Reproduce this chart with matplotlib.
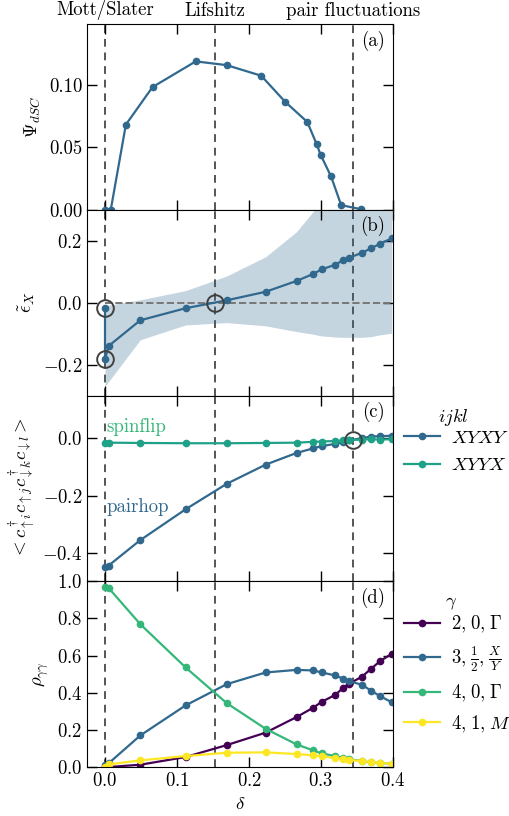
import numpy as np
import matplotlib.pyplot as plt

plt.rcParams['font.family'] = 'serif'
plt.rcParams['font.serif'] = ['cmr10']
plt.rcParams['mathtext.fontset'] = 'cm'
plt.rcParams['axes.formatter.use_mathtext'] = True
plt.rcParams['font.size'] = 13.5

# colours (viridis samples)
c_purple = '#440154'
c_blue = '#31688e'
c_teal = '#1fa187'
c_green = '#35b779'
c_yellow = '#fde725'

# transition points and their names
trans_x = [0.0, 0.153, 0.344]
trans_names = ['Mott/Slater', 'Lifshitz', 'pair fluctuations']

# (a) order parameter
delta_a = [0.0, 0.008, 0.029, 0.066, 0.126, 0.169, 0.217, 0.250, 0.281,
           0.294, 0.2995, 0.314, 0.328, 0.355]
psi_dsc = [0.0, 0.0, 0.0683, 0.0984, 0.119, 0.116, 0.1075, 0.0867, 0.0704,
           0.0525, 0.044, 0.0267, 0.0037, 0.0005]

# shared doping grid for (b)-(d)
delta = [0.0, 0.005, 0.049, 0.112, 0.169, 0.223, 0.266, 0.289, 0.301,
         0.320, 0.331, 0.339, 0.357, 0.369, 0.382, 0.398]

# (b) effective X level, first doping has two solutions
delta_b = [0.0] + delta
eps_x = [-0.018, -0.183, -0.140, -0.057, -0.018, 0.0075, 0.035, 0.070, 0.0925,
         0.1075, 0.1226, 0.1376, 0.145, 0.161, 0.175, 0.190, 0.2075]
eps_hi = [-0.013, -0.008, 0.009, 0.039, 0.086, 0.148, 0.229, 0.294, 0.32,
          0.35, 0.37, 0.38, 0.40, 0.42, 0.43, 0.44]
eps_lo = [-0.271, -0.255, -0.120, -0.072, -0.0645, -0.075, -0.0935, -0.102,
          -0.1075, -0.111, -0.112, -0.112, -0.112, -0.110, -0.104, -0.099]

# (c) correlators
pairhop = [-0.450, -0.445, -0.356, -0.248, -0.159, -0.092, -0.051, -0.035,
           -0.027, -0.019, -0.013, -0.007, 0.001, 0.006, 0.008, 0.009]
spinflip = [-0.015, -0.015, -0.016, -0.017, -0.017, -0.016, -0.015, -0.012,
            -0.011, -0.009, -0.007, -0.006, -0.004, -0.003, -0.004, -0.003]

# (d) density-matrix weights
rho_20G = [0.0, 0.0, 0.0125, 0.054, 0.118, 0.185, 0.269, 0.319, 0.351, 0.389,
           0.427, 0.448, 0.487, 0.527, 0.570, 0.609]
rho_3hXY = [0.009, 0.020, 0.170, 0.332, 0.446, 0.509, 0.523, 0.520, 0.509,
            0.493, 0.475, 0.462, 0.443, 0.412, 0.382, 0.349]
rho_40G = [0.971, 0.964, 0.769, 0.536, 0.344, 0.206, 0.122, 0.090, 0.073,
           0.059, 0.048, 0.043, 0.032, 0.025, 0.0215, 0.018]
rho_41M = [0.002, 0.014, 0.036, 0.059, 0.077, 0.079, 0.070, 0.063, 0.057,
           0.048, 0.043, 0.039, 0.032, 0.027, 0.0215, 0.018]

fig, axes = plt.subplots(4, 1, figsize=(5.1, 8.16), dpi=100, sharex=True)
fig.subplots_adjust(left=0.1706, right=0.7706, top=0.9706, bottom=0.06, hspace=0)

lkw = dict(lw=1.6, marker='o', ms=4.5)
circ = dict(marker='o', ms=12, mfc='none', mec='#404040', mew=1.4, ls='none', zorder=5)
legkw = dict(loc='upper left', frameon=False, handlelength=1.9,
             handletextpad=0.6, borderaxespad=0.2)

for ax in axes:
    for x in trans_x:
        ax.axvline(x, color='#555555', ls='--', lw=1.4, dashes=(4, 3), zorder=1)
    ax.tick_params(direction='in', top=True, right=True, length=7, width=1)
    ax.set_xlim(-0.025, 0.4)
    ax.set_xticks([0.0, 0.1, 0.2, 0.3, 0.4])

for x, name in zip(trans_x, trans_names):
    axes[0].text(x, 1.02, name, transform=axes[0].get_xaxis_transform(),
                 ha='center', va='bottom')

# (a)
ax = axes[0]
ax.plot(delta_a, psi_dsc, color=c_blue, **lkw)
ax.set_ylim(0, 0.149)
ax.set_yticks([0.0, 0.05, 0.10])
ax.yaxis.set_major_formatter(plt.FormatStrFormatter('%.2f'))
ax.set_ylabel(r'$\Psi_{dSC}$')

# (b)
ax = axes[1]
ax.fill_between(delta, eps_lo, eps_hi, color=c_blue, alpha=0.28, lw=0)
ax.hlines(0, 0, 0.4, color='#777777', ls='--', lw=1.4)
ax.plot(delta_b, eps_x, color=c_blue, **lkw)
ax.plot([0.0, 0.0, 0.153], [-0.018, -0.183, 0.0], **circ)
ax.set_ylim(-0.3, 0.3)
ax.set_yticks([-0.2, 0.0, 0.2])
ax.set_ylabel(r'$\tilde{\epsilon}_X$')

# (c)
ax = axes[2]
ax.plot(delta, pairhop, color=c_blue, label=r'$XYXY$', **lkw)
ax.plot(delta, spinflip, color=c_teal, label=r'$XYYX$', **lkw)
ax.plot([0.344], [-0.005], **circ)
ax.text(0.002, 0.01, 'spinflip', color=c_green, ha='left', va='bottom')
ax.text(0.002, -0.21, 'pairhop', color=c_blue, ha='left', va='top')
ax.set_ylim(-0.5, 0.15)
ax.set_yticks([-0.4, -0.2, 0.0])
ax.set_ylabel(r'$<c^\dagger_{\uparrow i}c_{\uparrow j}c^\dagger_{\downarrow k}c_{\downarrow l}>$')
ax.legend(bbox_to_anchor=(1.0, 0.88), **legkw)
ax.text(1.196, 0.88, r'$ijkl$', transform=ax.transAxes, ha='center', va='center')

# (d)
sp = r'\hspace{0.07}'
ax = axes[3]
ax.plot(delta, rho_20G, color=c_purple, label=r'$2,' + sp + r'0,' + sp + r'\Gamma$', **lkw)
ax.plot(delta, rho_3hXY, color=c_blue,
        label=r'$3,' + sp + r'\frac{1}{2},' + sp + r'\frac{X}{Y}$', **lkw)
ax.plot(delta, rho_40G, color=c_green, label=r'$4,' + sp + r'0,' + sp + r'\Gamma$', **lkw)
ax.plot(delta, rho_41M, color=c_yellow, label=r'$4,' + sp + r'1,' + sp + r'M$', **lkw)
ax.set_ylim(0, 1.0)
ax.set_yticks([0.0, 0.2, 0.4, 0.6, 0.8, 1.0])
ax.set_ylabel(r'$\rho_{\gamma\gamma}$')
ax.set_xlabel(r'$\delta$')
ax.legend(bbox_to_anchor=(1.0, 0.885), **legkw)
ax.text(1.19, 0.885, r'$\gamma$', transform=ax.transAxes, ha='center', va='center')

for ax, lab in zip(axes, ['(a)', '(b)', '(c)', '(d)']):
    ax.text(0.975, 0.965, lab, transform=ax.transAxes, ha='right', va='top')

fig.savefig('out.png', dpi=100)
